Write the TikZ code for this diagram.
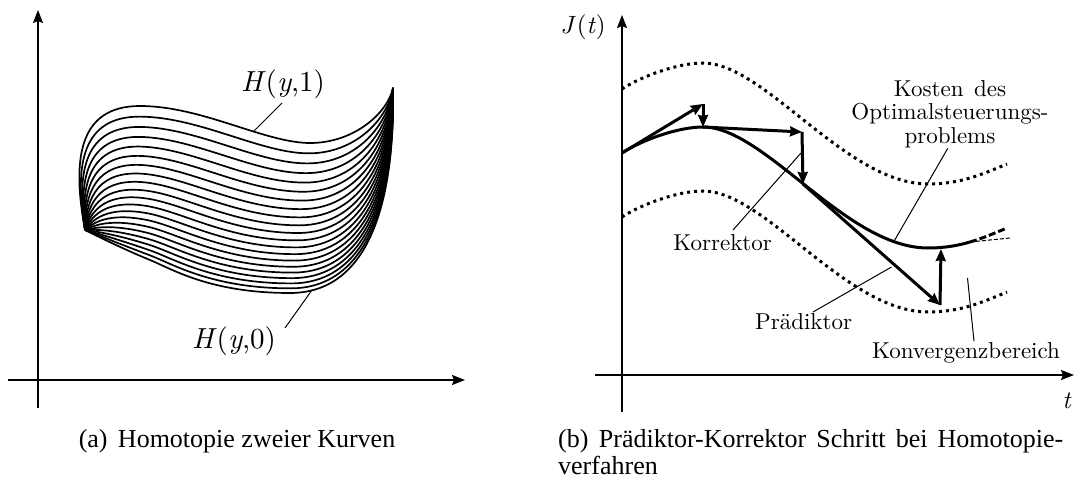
\documentclass[tikz,border=0pt]{standalone}
\usepackage{fontspec}
\newfontfamily\capfont{Liberation Serif}
\newfontfamily\lmten[Extension=.otf,UprightFont=*-regular,ItalicFont=*-italic]{lmroman10}
\usetikzlibrary{arrows.meta,calc}
\newcommand{\mi}[1]{\textit{#1}}
\begin{document}
\begin{tikzpicture}[x=1pt,y=-1pt,
  axarrow/.style={line width=1.6pt,-{Stealth[length=13pt,width=10pt,inset=2pt]}},
  fam/.style={line width=1.7pt},
  lead/.style={line width=1pt},
  solidc/.style={line width=3pt},
  dotc/.style={line width=3pt,dash pattern=on 3pt off 4pt},
  dashc/.style={line width=3pt,dash pattern=on 7pt off 3pt},
  thindash/.style={line width=1pt,dash pattern=on 4pt off 2pt},
  stepar/.style={line width=3pt,-{Stealth[length=12pt,width=10pt,inset=1pt]}},
  cmtxt/.style={font=\lmten\fontsize{23}{23.3}\selectfont, inner sep=0pt},
  hlab/.style={font=\lmten\fontsize{29}{30}\selectfont, inner sep=0pt},
  jlab/.style={font=\lmten\fontsize{25}{26}\selectfont, inner sep=0pt},
  captxt/.style={font=\capfont\fontsize{26}{27}\selectfont, inner sep=0pt},
]
\useasboundingbox (0,0) rectangle (1077,484);

% ---------------- left panel ----------------
\coordinate (lx0) at (8,380);   \coordinate (lx1) at (465,380);
\coordinate (ly0) at (38,408);  \coordinate (ly1) at (38,10);
\draw[axarrow] (lx0) -- (lx1);
\draw[axarrow] (ly0) -- (ly1);

% H(y,0)
\coordinate (a0) at (85,230);  \coordinate (a1) at (105,240); \coordinate (a2) at (128,251);
\coordinate (a3) at (150,260); \coordinate (a4) at (172,269); \coordinate (a5) at (210,293);
\coordinate (a6) at (290,293); \coordinate (a7) at (370,293); \coordinate (a8) at (395,200);
\coordinate (a9) at (393,88);
% H(y,1)
\coordinate (b0) at (85,230);  \coordinate (b1) at (72,160);  \coordinate (b2) at (78,106);
\coordinate (b3) at (140,106); \coordinate (b4) at (202,106); \coordinate (b5) at (265,143);
\coordinate (b6) at (310,143); \coordinate (b7) at (355,143); \coordinate (b8) at (388,112);
\coordinate (b9) at (393,88);

\foreach \k in {0,...,20}{
  \pgfmathsetmacro\u{\k/20}
  \pgfmathsetmacro\s{\u*(0.6+0.4*\u)}
  \draw[fam] ($(a0)!\s!(b0)$) .. controls ($(a1)!\s!(b1)$) and ($(a2)!\s!(b2)$) .. ($(a3)!\s!(b3)$)
     .. controls ($(a4)!\s!(b4)$) and ($(a5)!\s!(b5)$) .. ($(a6)!\s!(b6)$)
     .. controls ($(a7)!\s!(b7)$) and ($(a8)!\s!(b8)$) .. ($(a9)!\s!(b9)$);
}

\node[hlab, anchor=base] (h1) at (283,92) {\mi{H}(\mi{y},1)};
\coordinate (h1a) at (282,103); \coordinate (h1b) at (253,132);
\draw[lead] (h1a) -- (h1b);
\node[hlab, anchor=base] (h0) at (234,348) {\mi{H}(\mi{y},0)};
\coordinate (h0a) at (285,328); \coordinate (h0b) at (312,290);
\draw[lead] (h0a) -- (h0b);

\node[captxt, anchor=base] (ca) at (237,447) {(a)\hskip0.4em Homotopie zweier Kurven};

% ---------------- right panel ----------------
\coordinate (rx0) at (595,375);  \coordinate (rx1) at (1074,375);
\coordinate (ry0) at (622,412);  \coordinate (ry1) at (622,15);
\draw[axarrow] (rx0) -- (rx1);
\draw[axarrow] (ry0) -- (ry1);
\node[jlab] (J) at (583,27) {\mi{J}\kern1pt(\mi{t})};
\node[jlab] (t) at (1067,401) {\mi{t}};

% convergence region (dotted)
\draw[dotc] (622,89) .. controls (642,76) and (678,63) .. (703,63)
  .. controls (765,63) and (846,184) .. (928,184)
  .. controls (945,184) and (958,181.5) .. (970,178)
  .. controls (982,174.5) and (995,169) .. (1007,164);
\draw[dotc] (622,217) .. controls (642,204) and (678,191) .. (703,191)
  .. controls (765,191) and (846,312) .. (928,312)
  .. controls (945,312) and (958,309.5) .. (970,306)
  .. controls (982,302.5) and (995,297) .. (1007,292);

% cost curve
\draw[solidc] (622,153) .. controls (642,140) and (678,127) .. (703,127)
  .. controls (765,127) and (846,248) .. (928,248)
  .. controls (945,248) and (958,245.5) .. (970,242);
\coordinate (ce) at (970,242);
\coordinate (cd) at (1007,228);
\coordinate (ct) at (1010,238);
\draw[dashc] (ce) .. controls (982,238.5) and (995,233) .. (cd);
\draw[thindash] (ce) -- (ct);

% predictor / corrector steps
\coordinate (p0) at (622,153);
\coordinate (p1) at (703,104);
\coordinate (q1) at (703,127);
\coordinate (p2) at (802,132);
\coordinate (q2) at (803,184);
\coordinate (p3) at (940,305);
\coordinate (q3) at (941,249);
\draw[stepar] (p0) -- (p1);
\draw[stepar] (p1) -- (q1);
\draw[stepar] (q1) -- (p2);
\draw[stepar] (p2) -- (q2);
\draw[stepar] (q2) -- (p3);
\draw[stepar] (p3) -- (q3);

% labels
\node[cmtxt, anchor=base] (tK) at (722.6,251) {Korrektor};
\coordinate (kA) at (733,230); \coordinate (kB) at (801,153);
\draw[lead] (kA) -- (kB);

\node[cmtxt, anchor=base] (tP) at (803.6,329) {Prädiktor};
\coordinate (pA) at (813,312); \coordinate (pB) at (891.5,267);
\draw[lead] (pA) -- (pB);

\node[cmtxt, align=center] (tC) at (950,114) {Kosten\hskip0.45em des\\Optimalsteuerungs-\\problems};
\coordinate (cA) at (947.8,148.3); \coordinate (cB) at (893,243);
\draw[lead] (cA) -- (cB);

\node[cmtxt, anchor=base] (tB) at (966,358) {Konvergenzbereich};
\coordinate (bA) at (967.5,278); \coordinate (bB) at (974,341);
\draw[lead] (bA) -- (bB);

\node[captxt, anchor=base west, text width=505pt, align=justify] (cb) at (558,447)
  {(b)\hskip0.4em Prädiktor-Korrektor Schritt bei Homotopie-\linebreak verfahren};
\end{tikzpicture}
\end{document}
